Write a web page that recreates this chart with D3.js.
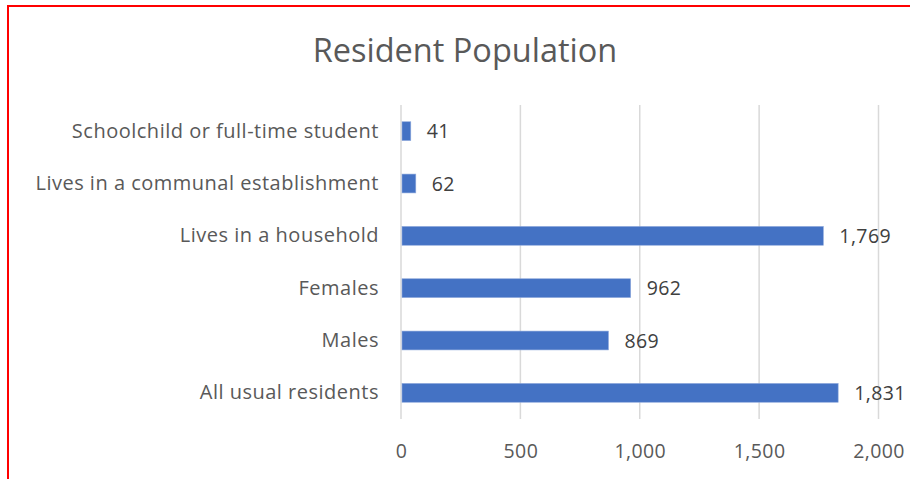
<!DOCTYPE html>
<html>
<head>
<meta charset="utf-8">
<script src="https://cdn.jsdelivr.net/npm/d3@7"></script>
<style>
  body { margin: 0; background: #fff; }
  svg { display: block; font-family: "Open Sans", Lato, sans-serif; }
</style>
</head>
<body>
<svg width="910" height="479"></svg>
<script>
// chart data
const categories = [
  "Schoolchild or full-time student",
  "Lives in a communal establishment",
  "Lives in a household",
  "Females",
  "Males",
  "All usual residents"
];
const values = [41, 62, 1769, 962, 869, 1831];
const xTicks = [0, 500, 1000, 1500, 2000];

const svg = d3.select("svg");
const margin = { left: 401, right: 31.5, top: 105, bottom: 60 };
const W = 910, H = 479;
const font = "'Open Sans', Lato, sans-serif";

// red frame round the chart
svg.append("rect")
    .attr("x", 8).attr("y", 6)
    .attr("width", 920).attr("height", 500)
    .attr("fill", "none")
    .attr("stroke", "#ff0000")
    .attr("stroke-width", 2);

const x = d3.scaleLinear().domain([0, 2000]).range([margin.left, W - margin.right]);
const y = d3.scaleBand().domain(categories).range([margin.top, 419]).paddingInner(0.64).paddingOuter(0.32);

// gridlines
svg.append("g")
    .selectAll("line")
    .data(xTicks)
    .join("line")
    .attr("x1", d => x(d)).attr("x2", d => x(d))
    .attr("y1", margin.top).attr("y2", 419)
    .attr("stroke", "#d9d9d9")
    .attr("stroke-width", 1.5);

// title
svg.append("text")
    .attr("x", 465).attr("y", 62)
    .attr("text-anchor", "middle")
    .attr("fill", "#595959")
    .attr("font-size", 32.5)
    .text("Resident Population");

// x axis labels
const xAxis = d3.axisBottom(x).tickValues(xTicks).tickFormat(d3.format(",")).tickSize(0).tickPadding(0);
const gx = svg.append("g").attr("transform", "translate(0,444.5)").call(xAxis);
gx.select(".domain").remove();
gx.selectAll("text")
    .attr("fill", "#595959")
    .attr("font-size", 19.5)
    .attr("letter-spacing", 0.4)
    .attr("font-family", font)
    .attr("dy", "0.71em");

// category labels
const yAxis = d3.axisLeft(y).tickSize(0).tickPadding(0);
const gy = svg.append("g").attr("transform", "translate(379,0)").call(yAxis);
gy.select(".domain").remove();
gy.selectAll("text")
    .attr("fill", "#595959")
    .attr("font-size", 20)
    .attr("letter-spacing", 0.5)
    .attr("font-family", font);

// bars
svg.append("g")
    .selectAll("rect")
    .data(values)
    .join("rect")
    .attr("x", x(0) + 1)
    .attr("y", (d, i) => y(categories[i]))
    .attr("width", d => x(d) - x(0) - 1)
    .attr("height", y.bandwidth())
    .attr("fill", "#4472c4")
    .attr("stroke", "#8fa9dc")
    .attr("stroke-width", 0.6);

// value labels
svg.append("g")
    .selectAll("text")
    .data(values)
    .join("text")
    .attr("x", d => x(d) + 16)
    .attr("y", (d, i) => y(categories[i]) + y.bandwidth() / 2)
    .attr("dy", "0.37em")
    .attr("fill", "#404040")
    .attr("font-size", 19.5)
    .attr("letter-spacing", 0.4)
    .text(d => d3.format(",")(d));
</script>
</body>
</html>
